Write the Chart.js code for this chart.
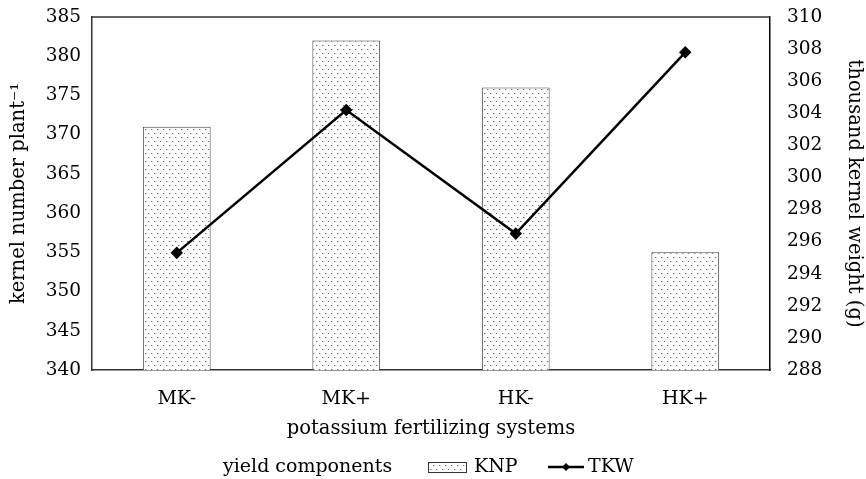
<!DOCTYPE html>
<html>
<head>
<meta charset="utf-8">
<script src="https://cdn.jsdelivr.net/npm/chart.js@4.4.0/dist/chart.umd.min.js"></script>
<style>
html,body{margin:0;padding:0;background:#fff;}
canvas{display:block;}
</style>
</head>
<body>
<canvas id="c" width="866" height="479"></canvas>
<script>
const categories = ['MK-', 'MK+', 'HK-', 'HK+'];
const knpValues = [371, 382, 376, 355];
const tkwValues = [295.3, 304.2, 296.5, 307.8];
const leftTicks = {min: 340, max: 385, step: 5};
const rightTicks = {min: 288, max: 310, step: 2};

const FONT = 'DejaVu Serif';
const FS_NUM = 18.5;
const FS_TXT = 19;
const FS_TITLE = 19.5;

// dotted pattern
const pc = document.createElement('canvas');
pc.width = 6; pc.height = 8;
const px = pc.getContext('2d');
px.fillStyle = '#fff'; px.fillRect(0,0,6,8);
px.fillStyle = '#6a6a6a';
px.fillRect(1,1,1,1);
px.fillRect(4,5,1,1);
px.fillStyle = '#c8c8c8';
px.fillRect(2,1,1,1); px.fillRect(5,5,1,1);
const ctxMain = document.getElementById('c').getContext('2d');
const dots = ctxMain.createPattern(pc, 'repeat');

const framePlugin = {
  id: 'frame',
  afterDatasetsDraw(chart) {
    const {ctx, chartArea: a} = chart;
    ctx.save();
    ctx.strokeStyle = '#333';
    ctx.lineWidth = 1.5;
    ctx.beginPath();
    ctx.moveTo(a.left, a.top);
    ctx.lineTo(a.right, a.top);
    ctx.stroke();
    ctx.restore();
  },
  afterDraw(chart) {
    const ctx = chart.ctx;
    ctx.save();
    const y = 467;
    ctx.font = FS_TXT + 'px "' + FONT + '"';
    ctx.fillStyle = '#000';
    ctx.textBaseline = 'middle';
    ctx.textAlign = 'left';
    ctx.fillText('yield components', 223, y);
    // KNP box
    ctx.fillStyle = dots;
    ctx.fillRect(428, y - 5, 38, 10);
    ctx.strokeStyle = '#333';
    ctx.lineWidth = 1;
    ctx.strokeRect(428.5, y - 4.5, 38, 10);
    ctx.fillStyle = '#000';
    ctx.fillText('KNP', 474, y);
    // TKW line
    ctx.strokeStyle = '#000';
    ctx.lineWidth = 2.5;
    ctx.beginPath();
    ctx.moveTo(548, y); ctx.lineTo(584, y);
    ctx.stroke();
    ctx.beginPath();
    ctx.moveTo(566, y - 4); ctx.lineTo(570, y); ctx.lineTo(566, y + 4); ctx.lineTo(562, y);
    ctx.closePath(); ctx.fill();
    ctx.fillText('TKW', 588, y);
    ctx.restore();
  }
};

new Chart(ctxMain, {
  data: {
    labels: categories,
    datasets: [
      {
        type: 'line', label: 'TKW', data: tkwValues, yAxisID: 'y1',
        borderColor: '#000', borderWidth: 2.5, tension: 0,
        pointStyle: 'rectRot', pointRadius: 4.5, pointBackgroundColor: '#000', pointBorderColor: '#000',
        order: 0
      },
      {
        type: 'bar', label: 'KNP', data: knpValues, yAxisID: 'y',
        backgroundColor: dots, borderColor: '#444', borderWidth: 1,
        barPercentage: 0.4, categoryPercentage: 1, order: 1
      }
    ]
  },
  options: {
    responsive: false,
    animation: false,
    layout: {padding: {top: 17, left: 0, right: 0, bottom: 37}},
    plugins: {legend: {display: false}, tooltip: {enabled: false}},
    scales: {
      x: {
        grid: {display: false, drawTicks: true, tickLength: 18},
        border: {display: true, color: '#333', width: 1.5},
        ticks: {color: '#000', font: {family: FONT, size: FS_TXT}, padding: 0},
        title: {display: true, text: 'potassium fertilizing systems', color: '#000', font: {family: FONT, size: FS_TITLE}, padding: {top: 4, bottom: 1}},
        afterFit(s) { s.height = 72; }
      },
      y: {
        position: 'left', min: leftTicks.min, max: leftTicks.max,
        grid: {display: false, drawTicks: true, tickLength: 11},
        border: {display: true, color: '#333', width: 1.5},
        ticks: {stepSize: leftTicks.step, color: '#000', font: {family: FONT, size: FS_NUM}, padding: 0},
        title: {display: true, text: 'kernel number plant\u207B\u00B9', color: '#000', font: {family: FONT, size: FS_TITLE}, padding: {top: 7, bottom: 4}},
        afterFit(s) { s.width = 92; }
      },
      y1: {
        position: 'right', min: rightTicks.min, max: rightTicks.max,
        grid: {display: false, drawTicks: true, tickLength: 17},
        border: {display: true, color: '#000', width: 1.5},
        ticks: {stepSize: rightTicks.step, color: '#000', font: {family: FONT, size: FS_NUM}, padding: 0},
        title: {display: true, text: 'thousand kernel weight (g)', color: '#000', font: {family: FONT, size: FS_TITLE}, padding: {top: 0, bottom: 0}},
        afterFit(s) { s.width = 96; }
      }
    }
  },
  plugins: [framePlugin]
});
</script>
</body>
</html>
